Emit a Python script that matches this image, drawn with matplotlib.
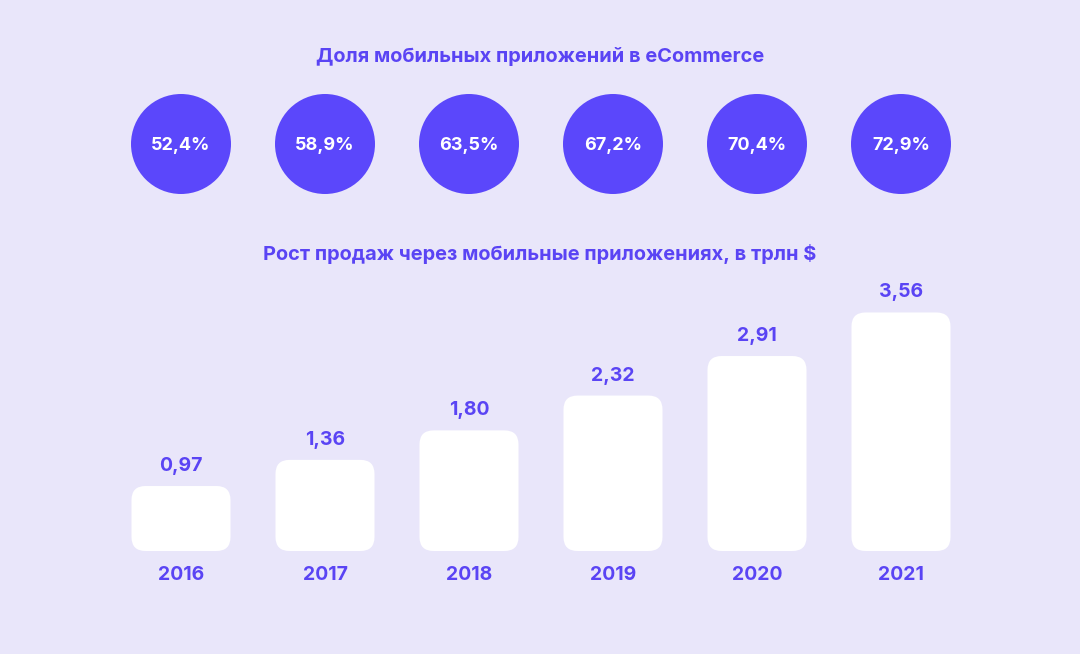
import matplotlib.pyplot as plt
from matplotlib.patches import Circle, FancyBboxPatch

BG = "#e9e6fa"
PURPLE = "#5b47fb"
TEXT = "#5a44f4"

plt.rcParams["font.family"] = ["Inter", "DejaVu Sans"]

years = ["2016", "2017", "2018", "2019", "2020", "2021"]
share_labels = ["52,4%", "58,9%", "63,5%", "67,2%", "70,4%", "72,9%"]
sales = [0.97, 1.36, 1.80, 2.32, 2.91, 3.56]
sales_labels = ["0,97", "1,36", "1,80", "2,32", "2,91", "3,56"]

fig = plt.figure(figsize=(10.8, 6.54), dpi=100)
fig.patch.set_facecolor(BG)
ax = fig.add_axes([0, 0, 1, 1])
ax.set_xlim(0, 1080)
ax.set_ylim(654, 0)
ax.axis("off")

x0, step = 181, 144
base, px_per_unit = 551, 67
bar_w, rad = 99, 14

ax.text(540, 57, "Доля мобильных приложений в eCommerce", ha="center", va="center",
        fontsize=14.4, fontweight="bold", color=TEXT)
ax.text(540, 254, "Рост продаж через мобильные приложениях, в трлн $", ha="center",
        va="center", fontsize=14.4, fontweight="bold", color=TEXT)

for i, (lab, val, vlab, yr) in enumerate(zip(share_labels, sales, sales_labels, years)):
    cx = x0 + i * step
    ax.add_patch(Circle((cx, 144), 50, color=PURPLE, lw=0))
    ax.text(cx, 145, lab, ha="center", va="center", fontsize=13,
            fontweight="bold", color="white")

    h = val * px_per_unit
    ax.add_patch(FancyBboxPatch((cx - bar_w / 2 + rad, base - h + rad),
                                bar_w - 2 * rad, h - 2 * rad,
                                boxstyle=f"round,pad={rad},rounding_size={rad}",
                                fc="white", ec="none"))
    ax.text(cx, base - h - 20, vlab, ha="center", va="center", fontsize=14,
            fontweight="bold", color=TEXT)
    ax.text(cx, 575, yr, ha="center", va="center", fontsize=14,
            fontweight="bold", color=TEXT)

fig.savefig("out.png", dpi=100, facecolor=BG)
